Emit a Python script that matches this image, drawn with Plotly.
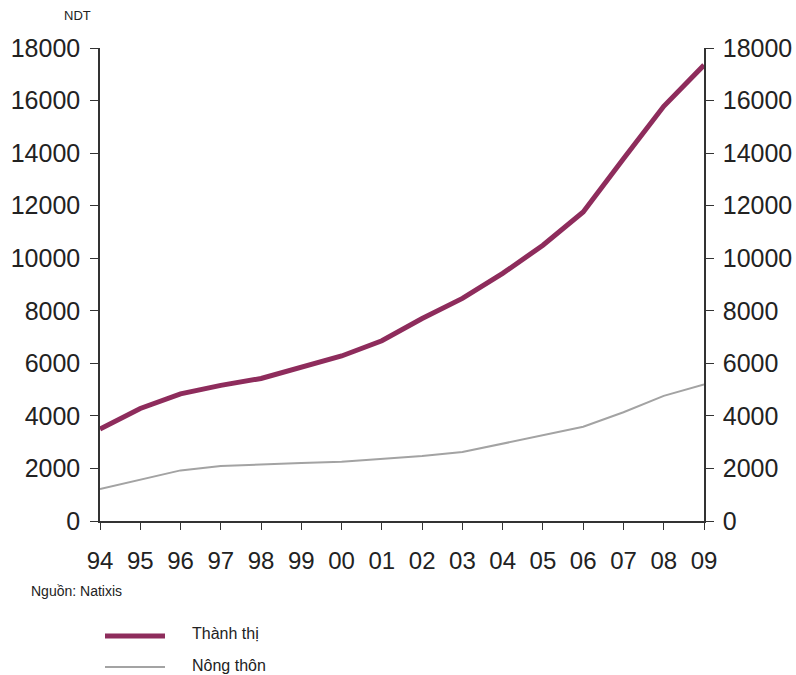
import plotly.graph_objects as go

# Per-capita disposable income (NDT), urban vs rural, 1994-2009
years = list(range(1994, 2010))
year_labels = ["94", "95", "96", "97", "98", "99", "00", "01",
               "02", "03", "04", "05", "06", "07", "08", "09"]
urban = [3500, 4283, 4839, 5160, 5425, 5854, 6280, 6860,
         7703, 8472, 9422, 10493, 11759, 13786, 15781, 17350]
rural = [1221, 1578, 1926, 2090, 2162, 2210, 2253, 2366,
         2476, 2622, 2936, 3255, 3587, 4140, 4761, 5200]
y_ticks = [0, 2000, 4000, 6000, 8000, 10000, 12000, 14000, 16000, 18000]
y_tick_labels = [str(v) for v in y_ticks]

urban_name = "Thành thị"
rural_name = "Nông thôn"
source_text = "Nguồn: Natixis"
unit_text = "NDT"

URBAN_COLOR = "#8E2C5C"
RURAL_COLOR = "#A3A3A3"
TEXT_COLOR = "#222222"
FONT = "Liberation Sans, Arial, sans-serif"

fig = go.Figure()
fig.add_trace(go.Scatter(x=years, y=rural, mode="lines", name=rural_name,
                         line=dict(color=RURAL_COLOR, width=2)))
fig.add_trace(go.Scatter(x=years, y=urban, mode="lines", name=urban_name,
                         line=dict(color=URBAN_COLOR, width=5)))
# mirror trace so the right-hand axis is rendered with the same scale
fig.add_trace(go.Scatter(x=years, y=urban, yaxis="y2", mode="lines",
                         line=dict(width=0), opacity=0, hoverinfo="skip",
                         showlegend=False))

axis_common = dict(range=[0, 18000], tickvals=y_ticks, ticktext=y_tick_labels,
                   ticks="outside", ticklen=8, tickcolor="#333",
                   showline=True, linecolor="#333", linewidth=1.5,
                   showgrid=False, zeroline=False, automargin=False,
                   tickfont=dict(size=25, color=TEXT_COLOR, family=FONT))

fig.update_layout(
    width=796, height=675,
    margin=dict(l=100, r=92, t=48, b=154),
    paper_bgcolor="white", plot_bgcolor="white",
    showlegend=False,
    xaxis=dict(range=[1994, 2009], tickvals=years, ticktext=year_labels,
               ticks="outside", ticklen=7, tickcolor="#333",
               showline=True, linecolor="#333", linewidth=1.5,
               showgrid=False, zeroline=False, ticklabelstandoff=10,
               automargin=False,
               tickfont=dict(size=24, color=TEXT_COLOR, family=FONT)),
    yaxis=dict(side="left", ticklabelstandoff=5, **axis_common),
    yaxis2=dict(side="right", overlaying="y", ticklabelstandoff=4, **axis_common),
)

# axis unit and source notes
fig.add_annotation(text=unit_text, xref="paper", yref="paper",
                   x=-0.038, y=1.068, xanchor="center", yanchor="middle",
                   showarrow=False, font=dict(size=13, color=TEXT_COLOR, family=FONT))
fig.add_annotation(text=source_text, xref="paper", yref="paper",
                   x=-0.118, y=-0.148, xanchor="left", yanchor="middle",
                   showarrow=False, font=dict(size=14, color=TEXT_COLOR, family=FONT))

# legend drawn below the chart
legend_items = [(urban_name, URBAN_COLOR, 5, 636, 633), (rural_name, RURAL_COLOR, 2, 667, 665)]
for name, color, width, line_px, text_px in legend_items:
    yl = (675 - 154 - line_px) / (675 - 48 - 154)
    yt = (675 - 154 - text_px) / (675 - 48 - 154)
    fig.add_shape(type="line", xref="paper", yref="paper",
                  x0=(105 - 100) / 604, x1=(165 - 100) / 604, y0=yl, y1=yl,
                  line=dict(color=color, width=width))
    fig.add_annotation(text=name, xref="paper", yref="paper",
                       x=(190 - 100) / 604, y=yt, xanchor="left", yanchor="middle",
                       showarrow=False,
                       font=dict(size=16, color=TEXT_COLOR, family=FONT))

fig.write_html("out.html")
